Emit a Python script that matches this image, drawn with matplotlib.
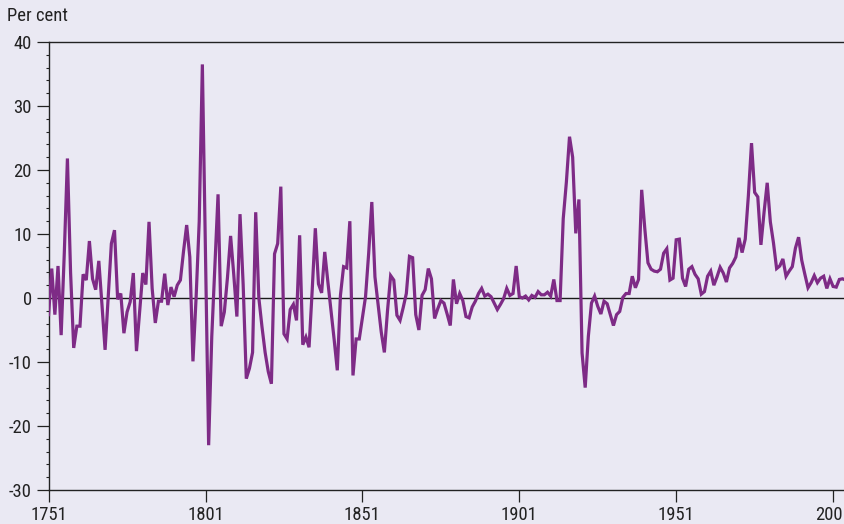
import matplotlib
matplotlib.use("Agg")
import matplotlib.pyplot as plt
from matplotlib.ticker import MultipleLocator

# ---- data: annual inflation, per cent ----
start_year = 1751
vals_1751_1800 = [-2.6, 4.6, -2.6, 5.0, -5.8, 7.0, 21.8, 4.0, -7.8, -4.4,
                  -4.4, 3.7, 2.8, 8.9, 3.0, 1.3, 5.8, -1.0, -8.1, 0.2,
                  8.5, 10.6, -0.2, 0.7, -5.5, -2.2, -0.6, 3.9, -8.3, -2.2,
                  3.9, 2.1, 11.9, 1.5, -3.9, -0.5, -0.5, 3.8, -1.1, 1.7,
                  0.2, 2.0, 2.8, 7.3, 11.4, 6.4, -9.9, 0.0, 12.0, 36.5]
vals_1801_1850 = [7.0, -23.0, -6.0, 5.0, 16.2, -4.4, -2.2, 3.2, 9.7, 3.7,
                  -2.9, 13.1, 2.1, -12.6, -11.0, -8.5, 13.4, 0.0, -4.5, -8.5,
                  -11.5, -13.4, 6.9, 8.5, 17.4, -5.6, -6.4, -1.8, -1.0, -3.5,
                  9.8, -7.3, -6.1, -7.7, 1.2, 10.9, 2.2, 0.8, 7.2, 2.5,
                  -2.0, -6.5, -11.3, 0.4, 4.9, 4.7, 12.0, -12.1, -6.4, -6.4]
vals_1851_1900 = [-3.1, 0.2, 7.0, 15.0, 3.3, -1.0, -5.3, -8.5, -2.0, 3.5,
                  2.8, -2.7, -3.5, -1.5, 0.7, 6.5, 6.3, -2.6, -5.0, 0.4,
                  1.3, 4.6, 3.0, -3.2, -1.7, -0.4, -0.8, -2.5, -4.3, 2.9,
                  -0.9, 0.7, -0.4, -2.9, -3.1, -1.4, -0.5, 0.7, 1.5, 0.3,
                  0.6, 0.2, -0.8, -1.8, -1.0, -0.1, 1.5, 0.4, 0.7, 5.0]
vals_1901_1950 = [0.2, 0.0, 0.3, -0.3, 0.4, 0.1, 1.0, 0.5, 0.5, 0.9,
                  0.3, 2.9, -0.4, -0.4, 12.4, 18.1, 25.2, 22.0, 10.1, 15.4,
                  -8.6, -14.0, -6.0, -0.8, 0.3, -1.3, -2.5, -0.5, -0.9, -2.6,
                  -4.3, -2.6, -2.1, 0.1, 0.7, 0.7, 3.4, 1.6, 2.9, 16.9,
                  10.8, 5.5, 4.5, 4.2, 4.1, 4.5, 7.0, 7.7, 2.8, 3.1]
vals_1951_2005 = [9.1, 9.2, 3.1, 1.8, 4.5, 4.9, 3.7, 3.0, 0.6, 1.0,
                  3.4, 4.2, 2.0, 3.3, 4.8, 3.9, 2.5, 4.7, 5.4, 6.4,
                  9.4, 7.1, 9.2, 16.0, 24.2, 16.5, 15.8, 8.3, 13.4, 18.0,
                  11.9, 8.6, 4.6, 5.0, 6.1, 3.4, 4.2, 4.9, 7.8, 9.5,
                  5.9, 3.7, 1.6, 2.4, 3.5, 2.4, 3.1, 3.4, 1.5, 3.0,
                  1.8, 1.7, 2.9, 3.0, 2.8]

values = vals_1751_1800 + vals_1801_1850 + vals_1851_1900 + vals_1901_1950 + vals_1951_2005
years = list(range(start_year, start_year + len(values)))

x_ticks = [1751, 1801, 1851, 1901, 1951, 2001]
y_ticks = [-30, -20, -10, 0, 10, 20, 30, 40]
y_label = "Per cent"

# ---- style ----
BG = "#EAE9F3"
LINE = "#7E2B86"
FONT = ["Liberation Sans Narrow", "Noto Sans Condensed", "Roboto Condensed", "Roboto", "DejaVu Sans"]
plt.rcParams["font.family"] = FONT
FS = 13.4

W, H = 845, 524
fig = plt.figure(figsize=(W / 100, H / 100), dpi=100, facecolor=BG)
px_per_year = 3.138
left_px, right_px = 48.6, 851
top_px, bot_px = 42, 490
ax = fig.add_axes([left_px / W, 1 - bot_px / H, (right_px - left_px) / W, (bot_px - top_px) / H])
ax.set_facecolor(BG)

ax.plot(years, values, color=LINE, lw=2.3, solid_joinstyle="miter", zorder=3)
ax.axhline(0, color="#1a1a1a", lw=1.0, zorder=2)

ax.set_xlim(1751, 1751 + (right_px - left_px) / px_per_year)
ax.set_ylim(-30, 40)

ax.set_xticks(x_ticks)
ax.set_xticklabels([str(t) for t in x_ticks])
ax.set_yticks(y_ticks)
ax.set_yticklabels([str(t) for t in y_ticks])
ax.yaxis.set_minor_locator(MultipleLocator(2))

for side in ["left", "bottom", "top"]:
    ax.spines[side].set_color("#222222")
    ax.spines[side].set_linewidth(1.0)
ax.spines["right"].set_visible(False)

ax.tick_params(axis="both", which="major", length=8.6, width=0.9, color="#222222",
               labelsize=FS, labelcolor="#222222", direction="out")
ax.tick_params(axis="y", which="major", pad=3.5)
ax.tick_params(axis="x", which="major", pad=3)
ax.tick_params(axis="y", which="minor", length=2.5, width=0.8, color="#222222", direction="out")

fig.text(7 / W, 1 - 16 / H, y_label, fontsize=FS, color="#222222", ha="left", va="center")

fig.savefig("out.png", dpi=100, facecolor=BG)
